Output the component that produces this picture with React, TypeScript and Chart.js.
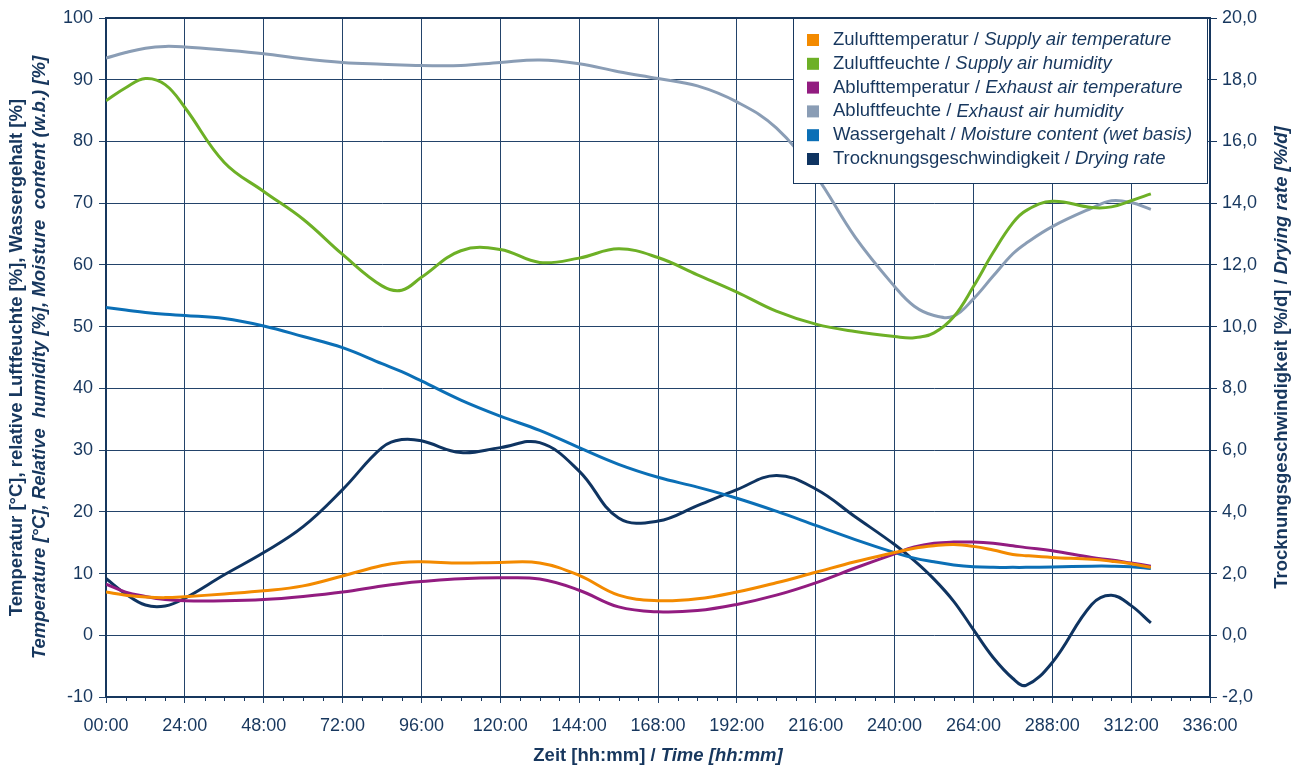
import React, { useEffect, useRef } from 'react';
import { Chart, registerables } from 'chart.js';

Chart.register(...registerables);

// ---- data (hours since start) ----
const hours = [0, 6, 12, 18, 24, 36, 48, 60, 72, 84, 90, 96, 108, 120, 132, 144, 156, 168, 180, 192, 204, 216, 228, 240, 246, 252, 258, 264, 270, 276, 280, 288, 300, 306, 312, 318];

const supplyTemp = [7.0, 6.5, 6.2, 6.1, 6.25, 6.7, 7.2, 8.0, 9.6, 11.3, 11.8, 11.9, 11.7, 11.8, 11.7, 9.7, 6.5, 5.6, 5.9, 7.0, 8.5, 10.2, 11.9, 13.4, 14.1, 14.5, 14.7, 14.4, 13.8, 13.1, 12.9, 12.6, 12.3, 12.0, 11.6, 11.0];
const supplyHumidity = [86.6, 88.7, 90.2, 89.2, 85.5, 76.6, 71.9, 67.4, 61.7, 56.6, 55.9, 58.0, 62.3, 62.5, 60.4, 61.1, 62.6, 61.2, 58.4, 55.6, 52.5, 50.4, 49.2, 48.4, 48.2, 49.0, 51.6, 56.5, 62.0, 66.8, 68.8, 70.3, 69.3, 69.4, 70.4, 71.5];
const exhaustTemp = [8.3, 7.0, 6.3, 5.8, 5.6, 5.6, 5.8, 6.3, 7.0, 8.0, 8.4, 8.7, 9.15, 9.3, 9.1, 7.3, 4.6, 3.8, 4.0, 5.0, 6.5, 8.5, 10.9, 13.2, 14.3, 14.9, 15.1, 15.1, 14.9, 14.5, 14.2, 13.7, 12.6, 12.2, 11.7, 11.2];
const exhaustHumidity = [93.5, 94.4, 95.1, 95.4, 95.3, 94.8, 94.2, 93.4, 92.8, 92.5, 92.4, 92.3, 92.3, 92.8, 93.2, 92.6, 91.3, 90.2, 89.0, 86.4, 82.2, 74.5, 64.5, 56.5, 53.3, 51.8, 51.7, 54.5, 58.2, 61.8, 63.5, 66.2, 69.2, 70.4, 70.1, 69.0];
const moistureContent = [53.1, 52.7, 52.3, 52.0, 51.8, 51.3, 50.1, 48.4, 46.6, 44.0, 42.7, 41.2, 38.1, 35.5, 33.2, 30.4, 27.7, 25.6, 24.0, 22.2, 20.1, 17.8, 15.5, 13.4, 12.5, 11.9, 11.4, 11.1, 11.0, 11.0, 11.0, 11.05, 11.2, 11.2, 11.1, 10.8];
const dryingRate = [1.84, 1.34, 0.98, 0.95, 1.2, 1.96, 2.68, 3.52, 4.72, 6.08, 6.34, 6.3, 5.92, 6.08, 6.24, 5.32, 3.8, 3.7, 4.2, 4.72, 5.18, 4.74, 3.84, 2.94, 2.42, 1.82, 1.1, 0.18, -0.72, -1.4, -1.62, -0.88, 1.0, 1.3, 0.96, 0.4];

const labelsDe = ['Zulufttemperatur', 'Zuluftfeuchte', 'Ablufttemperatur', 'Abluftfeuchte', 'Wassergehalt', 'Trocknungsgeschwindigkeit'];
const labelsEn = ['Supply air temperature', 'Supply air humidity', 'Exhaust air temperature', 'Exhaust air humidity', 'Moisture content (wet basis)', 'Drying rate'];
const colors = ['#F38A00', '#6DB026', '#921C80', '#8A9DB5', '#0B6FB6', '#0F3461'];

const FONT = '"Liberation Sans", Arial, Helvetica, sans-serif';
const NAVY = '#17375E';
const GRID = '#23436A';

function drawParts(ctx: CanvasRenderingContext2D, parts: { text: string; font: string }[], cx: number, cy: number, rot: number) {
  ctx.save();
  ctx.translate(cx, cy);
  ctx.rotate(rot);
  ctx.textBaseline = 'middle';
  ctx.textAlign = 'left';
  ctx.fillStyle = NAVY;
  let total = 0;
  const widths = parts.map((p) => {
    ctx.font = p.font;
    const w = ctx.measureText(p.text).width;
    total += w;
    return w;
  });
  let x = -total / 2;
  parts.forEach((p, i) => {
    ctx.font = p.font;
    ctx.fillText(p.text, x, 0);
    x += widths[i];
  });
  ctx.restore();
}

export default function App() {
  const ref = useRef<HTMLCanvasElement | null>(null);

  useEffect(() => {
    if (!ref.current) return;
    const series = [supplyTemp, supplyHumidity, exhaustTemp, exhaustHumidity, moistureContent, dryingRate];
    const datasets = series.map((vals, i) => ({
      label: `${labelsDe[i]} / ${labelsEn[i]}`,
      data: hours.map((h, j) => ({ x: h, y: vals[j] })),
      borderColor: colors[i],
      backgroundColor: colors[i],
      borderWidth: 3,
      pointRadius: 0,
      fill: false,
      tension: 0.4,
      yAxisID: i === 5 ? 'y1' : 'y',
    }));

    const decor = {
      id: 'decor',
      beforeDatasetsDraw(chart: any) {
        const { ctx, chartArea } = chart;
        ctx.save();
        ctx.strokeStyle = NAVY;
        ctx.lineWidth = 2;
        ctx.beginPath();
        ctx.moveTo(chartArea.left, chartArea.top);
        ctx.lineTo(chartArea.right, chartArea.top);
        ctx.stroke();
        ctx.restore();
      },
      afterDraw(chart: any) {
        const { ctx, chartArea } = chart;
        const xs = chart.scales.x;
        // minor ticks every 6 h
        ctx.save();
        ctx.strokeStyle = NAVY;
        ctx.lineWidth = 1;
        for (let h = 6; h < 336; h += 6) {
          if (h % 24 === 0) continue;
          const px = Math.round(xs.getPixelForValue(h)) + 0.5;
          ctx.beginPath();
          ctx.moveTo(px, chartArea.bottom);
          ctx.lineTo(px, chartArea.bottom + 4);
          ctx.stroke();
        }
        ctx.restore();

        // legend box
        const lx = 793.5, ly = chartArea.top + 0.5, lw = 414, lh = 165;
        ctx.save();
        ctx.fillStyle = '#ffffff';
        ctx.fillRect(lx, ly, lw, lh);
        ctx.strokeStyle = NAVY;
        ctx.lineWidth = 1;
        ctx.strokeRect(lx, ly, lw, lh);
        ctx.textBaseline = 'middle';
        ctx.textAlign = 'left';
        chart.data.datasets.forEach((ds: any, i: number) => {
          const cy = 40 + i * 23.8;
          ctx.fillStyle = ds.borderColor;
          ctx.fillRect(807, cy - 6, 12, 12);
          const [de, en] = String(ds.label).split(' / ');
          ctx.fillStyle = NAVY;
          ctx.font = `18.5px ${FONT}`;
          const t1 = `${de} / `;
          ctx.fillText(t1, 833, cy);
          const w1 = ctx.measureText(t1).width;
          ctx.font = `italic 18.5px ${FONT}`;
          ctx.fillText(en, 833 + w1, cy);
        });
        ctx.restore();

        // axis titles
        const midY = (chartArea.top + chartArea.bottom) / 2;
        const midX = (chartArea.left + chartArea.right) / 2;
        const b = `bold 18.5px ${FONT}`;
        const bi = `italic bold 18.5px ${FONT}`;
        drawParts(ctx, [{ text: 'Zeit [hh:mm] / ', font: b }, { text: 'Time [hh:mm]', font: bi }], midX, 756, 0);
        drawParts(ctx, [{ text: 'Temperatur [°C], relative Luftfeuchte [%], Wassergehalt [%]', font: b }], 17, midY, -Math.PI / 2);
        drawParts(ctx, [{ text: 'Temperature [°C], Relative  humidity [%], Moisture  content (w.b.) [%]', font: bi }], 40, midY, -Math.PI / 2);
        drawParts(ctx, [{ text: 'Trocknungsgeschwindigkeit [%/d] / ', font: b }, { text: 'Drying rate [%/d]', font: bi }], 1282, midY, -Math.PI / 2);
      },
    };

    const tickFont = { family: FONT, size: 18 };

    const chart = new Chart(ref.current, {
      type: 'line',
      data: { datasets: datasets as any },
      options: {
        animation: false,
        responsive: false,
        devicePixelRatio: 1,
        layout: { padding: { top: 18, left: 0, right: 0, bottom: 0 } },
        plugins: { legend: { display: false }, tooltip: { enabled: false } },
        scales: {
          x: {
            type: 'linear',
            min: 0,
            max: 336,
            afterFit: (s: any) => { s.height = 70; },
            ticks: {
              stepSize: 24,
              color: NAVY,
              font: tickFont,
              padding: 12,
              maxRotation: 0,
              autoSkip: false,
              callback: (v: any) => `${String(v).padStart(2, '0')}:00`,
            },
            grid: { color: GRID, lineWidth: 1, tickLength: 6 },
            border: { color: NAVY, width: 2 },
          },
          y: {
            type: 'linear',
            position: 'left',
            min: -10,
            max: 100,
            afterFit: (s: any) => { s.width = 106; },
            ticks: { stepSize: 10, color: NAVY, font: tickFont, padding: 6 },
            grid: { color: GRID, lineWidth: 1, tickLength: 7 },
            border: { color: NAVY, width: 2 },
          },
          y1: {
            type: 'linear',
            position: 'right',
            min: -2,
            max: 20,
            afterFit: (s: any) => { s.width = 94; },
            ticks: {
              stepSize: 2,
              color: NAVY,
              font: tickFont,
              padding: 5,
              callback: (v: any) => Number(v).toFixed(1).replace('.', ','),
            },
            grid: { drawOnChartArea: false, color: NAVY, tickLength: 7 },
            border: { color: NAVY, width: 2 },
          },
        },
      },
      plugins: [decor],
    });
    return () => chart.destroy();
  }, []);

  return (
    <div style={{ position: 'absolute', left: 0, top: 0, width: 1304, height: 767, background: '#ffffff' }}>
      <canvas ref={ref} width={1304} height={767} style={{ display: 'block', width: 1304, height: 767 }} />
    </div>
  );
}
